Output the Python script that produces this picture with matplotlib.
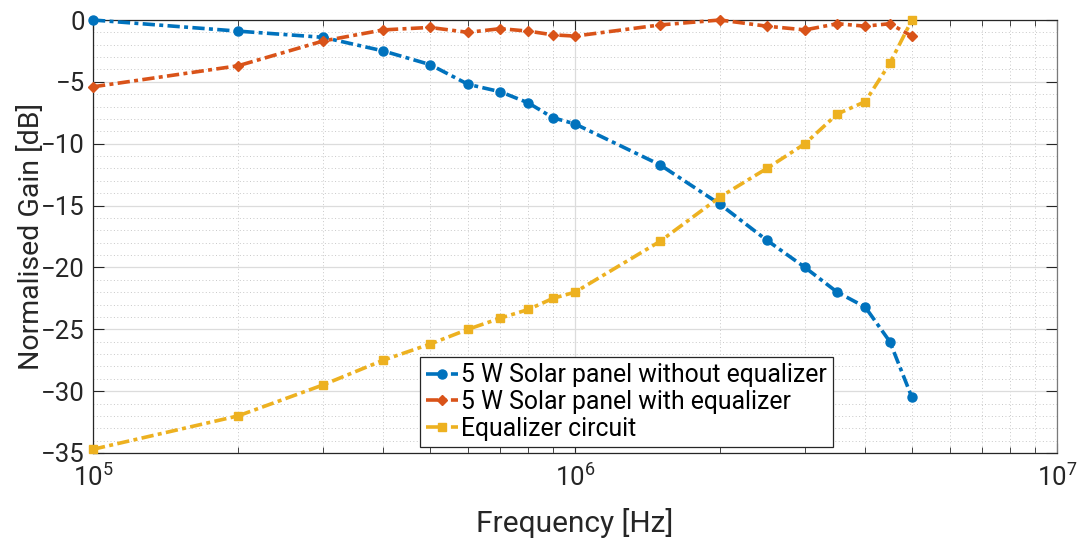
import matplotlib
matplotlib.use("Agg")
import matplotlib.pyplot as plt
from matplotlib.ticker import LogLocator, MultipleLocator

plt.rcParams['font.family'] = ['Roboto', 'DejaVu Sans']
plt.rcParams['mathtext.fontset'] = 'custom'
plt.rcParams['mathtext.rm'] = 'Roboto'
plt.rcParams['mathtext.it'] = 'Roboto'

freq = [1e5, 2e5, 3e5, 4e5, 5e5, 6e5, 7e5, 8e5, 9e5, 1e6,
        1.5e6, 2e6, 2.5e6, 3e6, 3.5e6, 4e6, 4.5e6, 5e6]
without_eq = [0.0, -0.9, -1.4, -2.5, -3.6, -5.2, -5.8, -6.7, -7.9, -8.4,
              -11.7, -14.9, -17.8, -20.0, -22.0, -23.2, -26.0, -30.5]
with_eq = [-5.4, -3.7, -1.7, -0.8, -0.6, -1.0, -0.7, -0.9, -1.2, -1.3,
           -0.4, 0.0, -0.5, -0.8, -0.3, -0.5, -0.3, -1.3]
equalizer = [-34.7, -32.0, -29.5, -27.5, -26.2, -25.0, -24.1, -23.4, -22.5, -22.0,
             -17.9, -14.3, -12.0, -10.0, -7.6, -6.6, -3.5, 0.0]

labels = ['5 W Solar panel without equalizer',
          '5 W Solar panel with equalizer',
          'Equalizer circuit']
colors = ['#0072BD', '#D95319', '#EDB120']
markers = ['o', 'D', 's']
msizes = [6.5, 5.5, 6]

fig = plt.figure(figsize=(10.89, 5.41), dpi=100)
ax = fig.add_axes([93/1089, 1 - 453/541, (1057-93)/1089, (453-20)/541])

dash = (3.4, 1.2, 1.1, 1.2)
for y, lab, c, m, ms in zip([without_eq, with_eq, equalizer], labels, colors, markers, msizes):
    ax.plot(freq, y, color=c, marker=m, markersize=ms,
            linewidth=2.6, dashes=dash, label=lab, clip_on=False, zorder=3)

ax.set_xscale('log')
ax.set_xlim(1e5, 1e7)
ax.set_ylim(-35, 0)
ax.yaxis.set_major_locator(MultipleLocator(5))
ax.yaxis.set_minor_locator(MultipleLocator(1))
ax.xaxis.set_major_locator(LogLocator(base=10, numticks=10))
ax.xaxis.set_minor_locator(LogLocator(base=10, subs=range(2, 10), numticks=20))

ax.grid(which='major', color='#dcdcdc', linewidth=0.9, linestyle='-')
ax.grid(which='minor', color='#c8c8c8', linewidth=0.7, linestyle=(0, (1, 2.5)))
ax.set_axisbelow(True)

for s in ax.spines.values():
    s.set_color('#262626')
    s.set_linewidth(0.9)
ax.spines['right'].set_color('#7a7a7a')
ax.tick_params(which='both', direction='in', top=True, right=True, colors='#262626',
               labelsize=18.5, pad=6)
ax.tick_params(axis='x', which='major', length=7, pad=8)
ax.tick_params(which='minor', length=4)
ax.tick_params(axis='y', which='minor', length=0)
ax.tick_params(axis='y', which='major', length=8)

ax.set_xlabel('Frequency [Hz]', fontsize=21.5, color='#262626', labelpad=12)
ax.set_ylabel('Normalised Gain [dB]', fontsize=20.5, color='#262626', labelpad=-3)

leg = ax.legend(loc='upper left', bbox_to_anchor=((420-93)/964, (453-357)/433),
                fontsize=17.8, frameon=True, fancybox=False, edgecolor='#262626',
                handlelength=1.3, handletextpad=0.1, borderpad=0.25, labelspacing=0.12,
                borderaxespad=0, framealpha=1)
leg.get_frame().set_linewidth(0.9)

fig.savefig('out.png', dpi=100, facecolor='white')
